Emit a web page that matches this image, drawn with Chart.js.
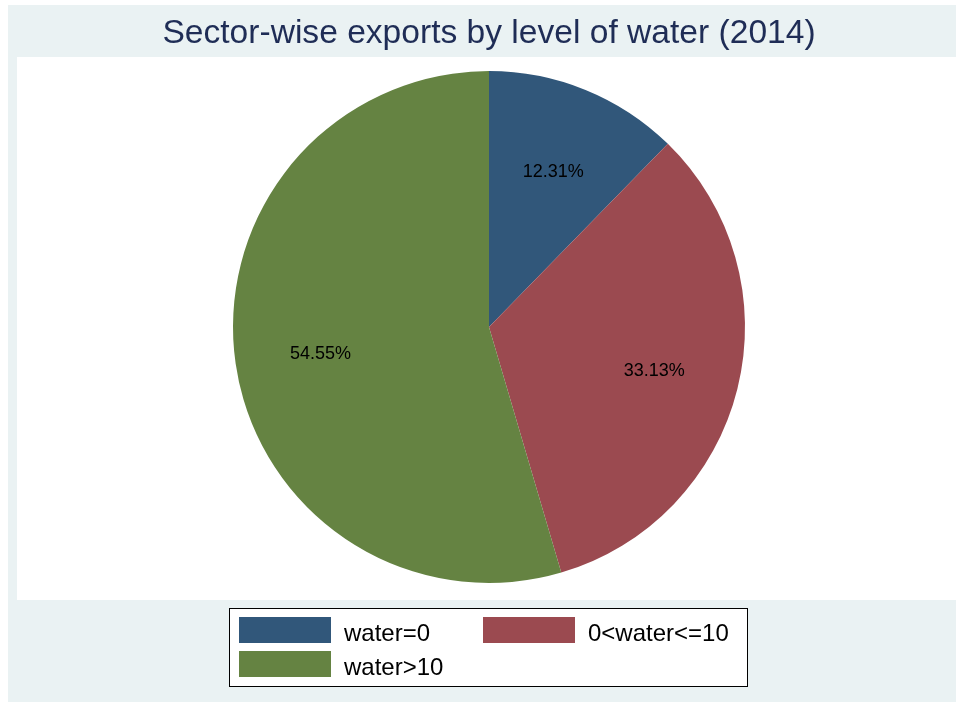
<!DOCTYPE html>
<html>
<head>
<meta charset="utf-8">
<script src="https://cdn.jsdelivr.net/npm/chart.js@4"></script>
<style>
  html, body { margin: 0; padding: 0; background: #fff; }
  #wrap { width: 956px; height: 702px; }
</style>
</head>
<body>
<div id="wrap"><canvas id="WaterPie"></canvas></div>
<script>
// data
const categories = ['water=0', '0<water<=10', 'water>10'];
const shares = [12.31, 33.13, 54.55];
const sliceColors = ['#31577a', '#9b4a50', '#658342'];

const FONT = '"Liberation Sans", Arial, sans-serif';

// light blue outer frame + white plot region (Stata look)
const frame = {
  id: 'frame',
  beforeDraw(chart) {
    const c = chart.ctx;
    c.save();
    c.fillStyle = '#ffffff';
    c.fillRect(0, 0, chart.width, chart.height);
    c.fillStyle = '#eaf2f3';
    c.fillRect(8, 5, chart.width - 8, chart.height - 5);
    c.fillStyle = '#ffffff';
    c.fillRect(17, 57, chart.width - 17, 543);
    c.restore();
  }
};

// percentage labels inside each slice
const sliceLabels = {
  id: 'sliceLabels',
  afterDatasetsDraw(chart) {
    const c = chart.ctx;
    const meta = chart.getDatasetMeta(0);
    c.save();
    c.font = '18px ' + FONT;
    c.fillStyle = '#000';
    c.textAlign = 'center';
    c.textBaseline = 'middle';
    meta.data.forEach((arc, i) => {
      const p = arc.getProps(['x', 'y', 'startAngle', 'endAngle', 'outerRadius'], true);
      const mid = (p.startAngle + p.endAngle) / 2;
      const r = p.outerRadius * 0.665;
      c.fillText(shares[i].toFixed(2) + '%', p.x + Math.cos(mid) * r, p.y + Math.sin(mid) * r + 3);
    });
    c.restore();
  }
};

// boxed two-column legend under the plot
const boxLegend = {
  id: 'boxLegend',
  afterDraw(chart) {
    const c = chart.ctx;
    const ds = chart.data.datasets[0];
    c.save();
    c.fillStyle = '#ffffff';
    c.fillRect(229, 608, 518, 78);
    c.strokeStyle = '#000';
    c.lineWidth = 1;
    c.strokeRect(229.5, 608.5, 518, 78);
    c.font = '24px ' + FONT;
    c.textBaseline = 'middle';
    const cols = [239, 483];
    chart.data.labels.forEach((lab, i) => {
      const x = cols[i % 2];
      const y = 617 + Math.floor(i / 2) * 34;
      c.fillStyle = ds.backgroundColor[i];
      c.fillRect(x, y, 92, 26);
      c.fillStyle = '#000';
      c.fillText(lab, x + 105, y + 17);
    });
    c.restore();
  }
};

new Chart(document.getElementById('WaterPie'), {
  type: 'pie',
  data: {
    labels: categories,
    datasets: [{
      data: shares,
      backgroundColor: sliceColors,
      borderWidth: 0
    }]
  },
  options: {
    responsive: true,
    maintainAspectRatio: false,
    animation: false,
    layout: {
      padding: { left: 22, right: 0, top: 0, bottom: 119 }
    },
    plugins: {
      legend: { display: false },
      tooltip: { enabled: false },
      title: {
        display: true,
        text: 'Sector-wise exports by level of water (2014)',
        color: '#1f2d56',
        font: { family: FONT, size: 33.6, weight: 'normal', lineHeight: 1.2 },
        padding: { top: 14, bottom: 16.7 }
      }
    }
  },
  plugins: [frame, sliceLabels, boxLegend]
});
</script>
</body>
</html>
